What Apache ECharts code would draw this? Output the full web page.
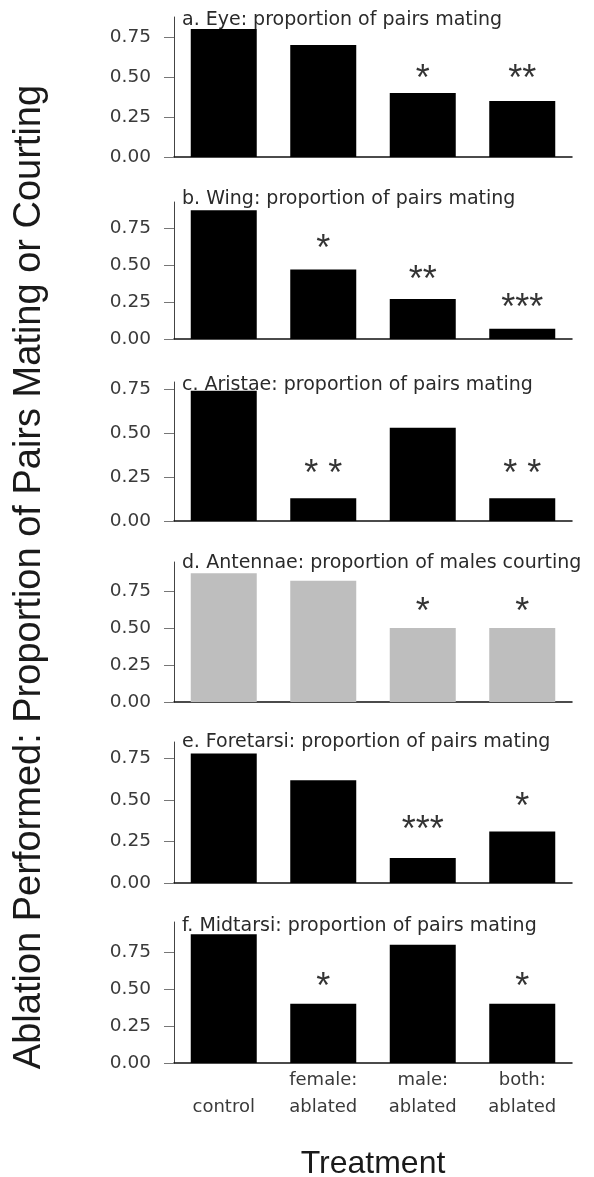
<!DOCTYPE html>
<html><head><meta charset="utf-8">
<script src="https://cdn.jsdelivr.net/npm/echarts@6/dist/echarts.min.js"></script>
<style>html,body{margin:0;padding:0;background:#fff}#c{width:594px;height:1177px}</style>
</head><body><div id="c"></div>
<script>
// ---- data ----
const categories = ['control', 'female:\nablated', 'male:\nablated', 'both:\nablated'];
const panelTitles = [
  'a. Eye: proportion of pairs mating',
  'b. Wing: proportion of pairs mating',
  'c. Aristae: proportion of pairs mating',
  'd. Antennae: proportion of males courting',
  'e. Foretarsi: proportion of pairs mating',
  'f. Midtarsi: proportion of pairs mating'
];
const eyeValues      = [0.80, 0.70, 0.40, 0.35];
const wingValues     = [0.87, 0.47, 0.27, 0.07];
const aristaeValues  = [0.74, 0.13, 0.53, 0.13];
const antennaeValues = [0.87, 0.82, 0.50, 0.50];
const foretarsiValues= [0.78, 0.62, 0.15, 0.31];
const midtarsiValues = [0.87, 0.40, 0.80, 0.40];

const eyeStars       = ['', '', '*', '**'];
const wingStars      = ['', '*', '**', '***'];
const aristaeStars   = ['', '* *', '', '* *'];
const antennaeStars  = ['', '', '*', '*'];
const foretarsiStars = ['', '', '***', '*'];
const midtarsiStars  = ['', '*', '', '*'];

const eyeStarY       = [null, null, 0.53, 0.53];
const wingStarY      = [null, 0.655, 0.446, 0.257];
const aristaeStarY   = [null, 0.307, null, 0.307];
const antennaeStarY  = [null, null, 0.655, 0.655];
const foretarsiStarY = [null, null, 0.361, 0.50];
const midtarsiStarY  = [null, 0.56, null, 0.56];

const yTickValues = [0, 0.25, 0.5, 0.75];
const yAxisMax = [0.875, 0.926, 0.79, 0.946, 0.85, 0.953];
const xTitle = 'Treatment';
const yTitle = 'Ablation Performed: Proportion of Pairs Mating or Courting';

const panelValues = [eyeValues, wingValues, aristaeValues, antennaeValues, foretarsiValues, midtarsiValues];
const panelStars = [eyeStars, wingStars, aristaeStars, antennaeStars, foretarsiStars, midtarsiStars];
const panelStarY = [eyeStarY, wingStarY, aristaeStarY, antennaeStarY, foretarsiStarY, midtarsiStarY];

// ---- layout / style ----
const gridTops = [17, 202, 382, 562, 742, 922];
const gridBottoms = [157, 339, 521, 702, 883, 1063];
const titleTops = [11, 190, 376, 554, 733, 917];
const barColors = ['#000', '#000', '#000', '#bebebe', '#000', '#000'];
const GL = 174, GW = 398;
const smallFont = 'DejaVu Sans';

const chart = echarts.init(document.getElementById('c'), null, {renderer: 'canvas'});
const grid = [], xAxis = [], yAxis = [], series = [], title = [];
for (let i = 0; i < 6; i++) {
  const last = i === 5;
  grid.push({left: GL, width: GW, top: gridTops[i], height: gridBottoms[i] - gridTops[i], containLabel: false});
  xAxis.push({
    type: 'category', gridIndex: i, data: categories,
    axisLine: {show: true, lineStyle: {color: '#111', width: 1.5}},
    axisTick: {show: false},
    axisLabel: last ? {show: true, interval: 0, fontFamily: smallFont, fontSize: 18, lineHeight: 27,
      color: '#3a3a3a', verticalAlign: 'bottom', margin: 58} : {show: false},
    splitLine: {show: false}
  });
  yAxis.push({
    type: 'value', gridIndex: i, min: 0, max: yAxisMax[i], interval: 0.25,
    axisLine: {show: true, lineStyle: {color: '#444', width: 1}},
    axisTick: {show: true, length: 10, customValues: yTickValues, lineStyle: {color: '#777', width: 1}},
    axisLabel: {show: true, customValues: yTickValues, margin: 23, fontFamily: smallFont, fontSize: 18.5,
      color: '#3a3a3a', formatter: v => v.toFixed(2)},
    splitLine: {show: false}
  });
  series.push({
    type: 'bar', xAxisIndex: i, yAxisIndex: i, data: panelValues[i], barWidth: 66,
    itemStyle: {color: barColors[i]}, silent: true, animation: false
  });
  const sd = [];
  panelStarY[i].forEach((y, k) => { if (y != null) sd.push({value: [k, y], name: panelStars[i][k]}); });
  series.push({
    type: 'scatter', xAxisIndex: i, yAxisIndex: i, data: sd, symbolSize: 1,
    itemStyle: {color: 'rgba(0,0,0,0)'}, animation: false, silent: true,
    label: {show: true, position: 'inside', formatter: '{b}', fontFamily: 'Liberation Sans', fontSize: 36,
      color: '#000', offset: [0, 8]}
  });
  title.push({
    text: panelTitles[i], left: 182, top: titleTops[i], padding: 0,
    textStyle: {fontFamily: smallFont, fontSize: 19, fontWeight: 'normal', color: '#2a2a2a'}
  });
}

chart.setOption({
  animation: false,
  backgroundColor: '#fff',
  title, grid, xAxis, yAxis, series,
  graphic: [
    {type: 'text', x: 30, y: 577, rotation: Math.PI / 2,
      style: {text: yTitle, fontFamily: 'Liberation Sans', fontSize: 38, fill: '#1a1a1a', align: 'center', verticalAlign: 'middle'}},
    {type: 'text', x: 373, y: 1164,
      style: {text: xTitle, fontFamily: 'Liberation Sans', fontSize: 32, fill: '#1a1a1a', align: 'center', verticalAlign: 'middle'}}
  ]
});
</script></body></html>
